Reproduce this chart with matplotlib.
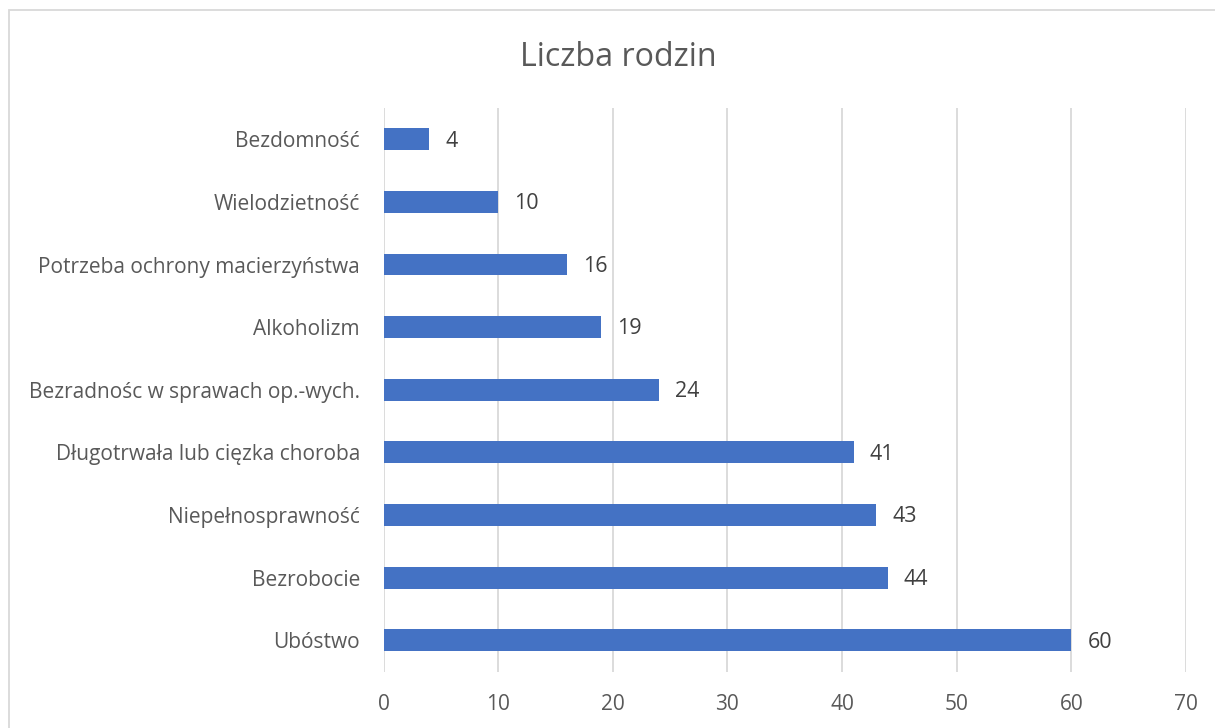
import matplotlib
matplotlib.use("Agg")
import matplotlib.pyplot as plt
from matplotlib.patches import Rectangle

plt.rcParams['font.family'] = ['Open Sans', 'DejaVu Sans']

categories = ["Bezdomność", "Wielodzietność", "Potrzeba ochrony macierzyństwa",
              "Alkoholizm", "Bezradnośc w sprawach op.-wych.",
              "Długotrwała lub cięzka choroba", "Niepełnosprawność",
              "Bezrobocie", "Ubóstwo"]
values = [4, 10, 16, 19, 24, 41, 43, 44, 60]
xticks = [0, 10, 20, 30, 40, 50, 60, 70]
title = "Liczba rodzin"

W, H = 1215, 728
fig = plt.figure(figsize=(W / 100, H / 100), dpi=100)
fig.patch.set_facecolor("white")

# chart border
fig.add_artist(Rectangle((9 / W, -0.05), 1.2, 1 - 10 / H + 0.05,
                         transform=fig.transFigure, fill=False,
                         edgecolor="#d9d9d9", linewidth=1.3))

left, right = 383.5 / W, 1186 / W
top, bottom = 1 - 108 / H, 1 - 671.5 / H
ax = fig.add_axes([left, bottom, right - left, top - bottom])

y = list(range(len(categories)))
ax.barh(y, values, height=0.35, color="#4472C4", zorder=3)
ax.set_ylim(len(categories) - 0.5, -0.5)
ax.set_xlim(0, 70)
ax.set_xticks(xticks)
ax.set_yticks(y)
ax.set_yticklabels(categories)

for yi, v in zip(y, values):
    ax.annotate(str(v), (v, yi), xytext=(11.5, -1.3), textcoords="offset points",
                va="center", ha="left", fontsize=15.5, color="#404040")

ax.grid(axis="x", color="#d9d9d9", linewidth=1.3, zorder=0)
for s in ax.spines.values():
    s.set_visible(False)
ax.tick_params(axis="both", length=0, labelsize=15, labelcolor="#595959")
ax.tick_params(axis="y", pad=17)
ax.tick_params(axis="x", pad=16.5)

fig.text(618 / W, 1 - 57 / H, title, ha="center", va="center",
         fontsize=23.2, color="#595959")

fig.savefig("out.png", dpi=100, facecolor="white")
